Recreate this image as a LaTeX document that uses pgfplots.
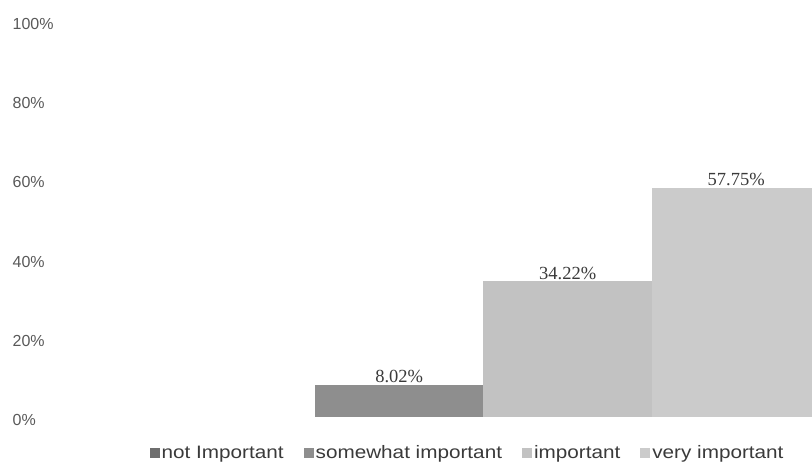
\documentclass[border=0pt]{standalone}
\usepackage{pgfplots}
\pgfplotsset{compat=1.18}
\usepackage{fontspec}
\setmainfont{Liberation Sans}
\newfontfamily\dlfont{Liberation Serif}
\newfontfamily\legfont[FakeStretch=1.15]{Liberation Sans}
\definecolor{cNot}{HTML}{6E6E6E}
\definecolor{cSome}{HTML}{8E8E8E}
\definecolor{cImp}{HTML}{C2C2C2}
\definecolor{cVery}{HTML}{CBCBCB}
\definecolor{txt}{HTML}{3A3A3A}
\begin{document}
\begin{tikzpicture}[x=1pt,y=1pt]
\begin{axis}[
  at={(146.5pt,51pt)}, anchor=south west,
  scale only axis,
  width=665.5pt, height=396pt,
  xmin=-0.5, xmax=3.4496,
  ymin=0, ymax=100,
  axis line style={draw=none},
  tick style={draw=none},
  xtick=\empty,
  ytick={0,20,40,60,80,100},
  yticklabels={0\%,20\%,40\%,60\%,80\%,100\%},
  yticklabel style={anchor=west, xshift=-134pt, yshift=-3pt, inner sep=0pt, font=\fontsize{16}{18}\selectfont, text=black!65},
  ybar, bar width=1, bar shift=0pt,
  clip=true,
  legend columns=4,
  legend style={at={(0.4825,-0.091)}, anchor=center, draw=none, fill=none,
    font=\legfont\fontsize{18}{20}\selectfont, text=txt,
    /tikz/every even column/.append style={column sep=18pt},
    /tikz/every odd column/.append style={column sep=0pt},
    cells={inner xsep=1.5pt}},
  nodes near coords style={font=\dlfont\fontsize{18.5}{20}\selectfont, text=txt, anchor=south, inner sep=2pt},
]
\addplot[draw=none, fill=none, legend image code/.code={\fill[cNot] (0pt,-5pt) rectangle (10pt,5pt);}] coordinates {(0,0)};
\addlegendentry{not Important}
\addplot[draw=none, fill=cSome, nodes near coords={\pgfmathprintnumber[fixed,fixed zerofill,precision=2,assume math mode=true]{\pgfplotspointmeta}\%},
  legend image code/.code={\fill[cSome] (0pt,-5pt) rectangle (10pt,5pt);}] coordinates {(1,8.02)};
\addlegendentry{somewhat important}
\addplot[draw=none, fill=cImp, nodes near coords={\pgfmathprintnumber[fixed,fixed zerofill,precision=2,assume math mode=true]{\pgfplotspointmeta}\%},
  legend image code/.code={\fill[cImp] (0pt,-5pt) rectangle (10pt,5pt);}] coordinates {(2,34.22)};
\addlegendentry{important}
\addplot[draw=none, fill=cVery, nodes near coords={\pgfmathprintnumber[fixed,fixed zerofill,precision=2,assume math mode=true]{\pgfplotspointmeta}\%},
  legend image code/.code={\fill[cVery] (0pt,-5pt) rectangle (10pt,5pt);}] coordinates {(3,57.75)};
\addlegendentry{very important}
\end{axis}
\pgfresetboundingbox
\useasboundingbox (0,0) rectangle (812pt,468pt);
\end{tikzpicture}
\end{document}
